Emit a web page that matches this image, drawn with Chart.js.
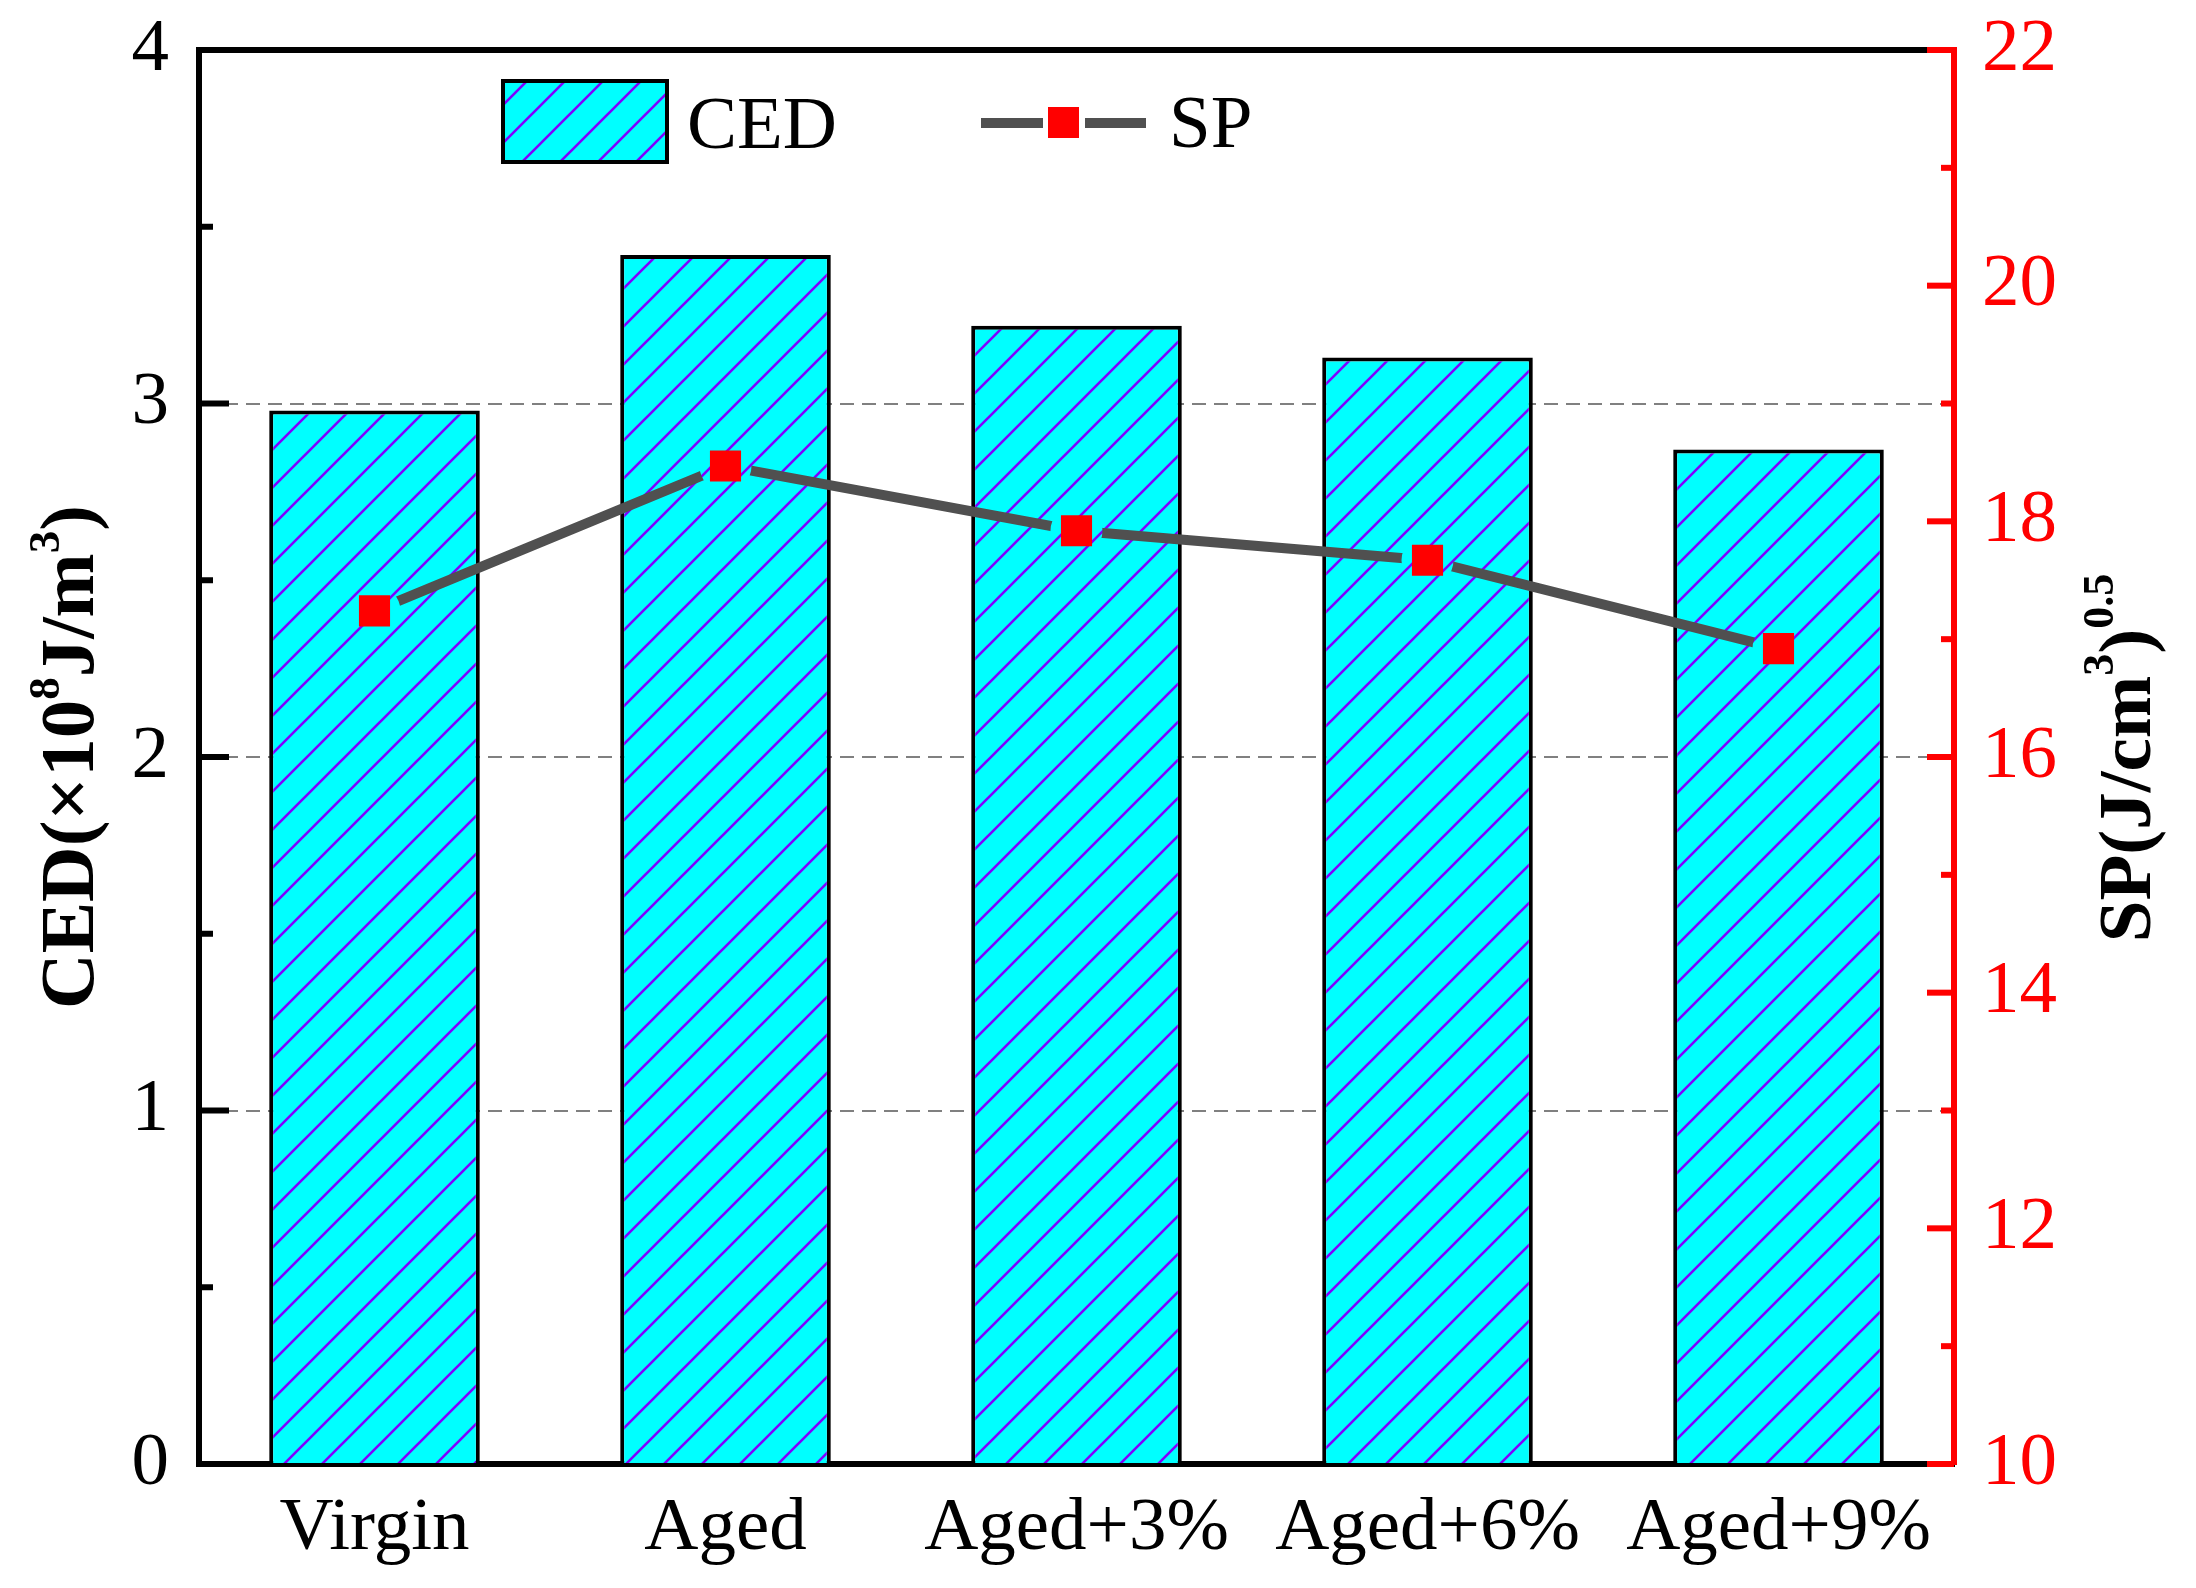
<!DOCTYPE html>
<html>
<head>
<meta charset="utf-8">
<script src="https://cdn.jsdelivr.net/npm/chart.js@4.4.1/dist/chart.umd.min.js"></script>
<style>
html, body { margin: 0; padding: 0; background: #fff; }
#wrap { position: relative; width: 2196px; height: 1588px; }
</style>
</head>
<body>
<div id="wrap"><canvas id="myChart" width="2196" height="1588"></canvas></div>
<script>
var categories = ["Virgin", "Aged", "Aged+3%", "Aged+6%", "Aged+9%"];
var cedValues = [2.98, 3.42, 3.22, 3.13, 2.87];
var spValues = [17.24, 18.47, 17.92, 17.67, 16.92];
var cedTicks = [0, 1, 2, 3, 4];
var spTicks = [10, 12, 14, 16, 18, 20, 22];

var serif = "'Liberation Serif', 'Times New Roman', serif";
Chart.defaults.font.family = serif;
Chart.defaults.font.size = 74;
Chart.defaults.color = "#000";

var canvas = document.getElementById("myChart");

// cyan fill with purple "/" hatch
function makeHatch() {
    var s = 38;
    var c = document.createElement("canvas");
    c.width = s; c.height = s;
    var g = c.getContext("2d");
    g.fillStyle = "#00ffff";
    g.fillRect(0, 0, s, s);
    g.strokeStyle = "#8000ff";
    g.lineWidth = 2.6;
    g.beginPath();
    g.moveTo(-2, s + 2); g.lineTo(s + 2, -2);
    g.moveTo(-2, 2); g.lineTo(2, -2);
    g.moveTo(s - 2, s + 2); g.lineTo(s + 2, s - 2);
    g.stroke();
    return canvas.getContext("2d").createPattern(c, "repeat");
}
var hatch = makeHatch();

function drawRotated(ctx, parts, baseX, cy, size, supSize, raise) {
    ctx.save();
    var total = 0;
    parts.forEach(function (p) {
        ctx.font = "bold " + (p.sup ? supSize : size) + "px " + serif;
        p.w = ctx.measureText(p.t).width;
        total += p.w;
    });
    ctx.translate(baseX, cy);
    ctx.rotate(-Math.PI / 2);
    ctx.textAlign = "left";
    ctx.textBaseline = "alphabetic";
    ctx.fillStyle = "#000";
    var x = -total / 2;
    parts.forEach(function (p) {
        ctx.font = "bold " + (p.sup ? supSize : size) + "px " + serif;
        ctx.fillText(p.t, x, p.sup ? -raise : 0);
        x += p.w;
    });
    ctx.restore();
}

// line gaps around the square markers
var gapClip = {
    id: "gapClip",
    beforeDatasetDraw: function (chart, args) {
        if (args.index !== 1) return;
        var ctx = chart.ctx;
        var pts = chart.getDatasetMeta(2).data;
        ctx.save();
        ctx.beginPath();
        ctx.rect(0, 0, chart.width, chart.height);
        pts.forEach(function (p) {
            ctx.moveTo(p.x + 26, p.y);
            ctx.arc(p.x, p.y, 26, 0, Math.PI * 2);
        });
        ctx.clip("evenodd");
    },
    afterDatasetDraw: function (chart, args) {
        if (args.index !== 1) return;
        chart.ctx.restore();
    }
};

var decor = {
    id: "decor",
    afterDraw: function (chart) {
        var ctx = chart.ctx;
        var a = chart.chartArea;
        var y = chart.scales.y, y1 = chart.scales.y1;
        ctx.save();
        // top frame
        ctx.strokeStyle = "#000";
        ctx.lineWidth = 6;
        ctx.beginPath();
        ctx.moveTo(a.left - 3, a.top);
        ctx.lineTo(a.right, a.top);
        ctx.stroke();
        // left ticks, inward
        for (var i = 0; i < cedTicks.length; i++) {
            var py = y.getPixelForValue(cedTicks[i]);
            ctx.beginPath(); ctx.moveTo(a.left, py); ctx.lineTo(a.left + 30, py); ctx.stroke();
            if (i < cedTicks.length - 1) {
                var my = y.getPixelForValue((cedTicks[i] + cedTicks[i + 1]) / 2);
                ctx.beginPath(); ctx.moveTo(a.left, my); ctx.lineTo(a.left + 14, my); ctx.stroke();
            }
        }
        // right ticks, inward, red
        ctx.strokeStyle = "#ff0000";
        for (var j = 0; j < spTicks.length; j++) {
            var qy = y1.getPixelForValue(spTicks[j]);
            ctx.beginPath(); ctx.moveTo(a.right, qy); ctx.lineTo(a.right - 27, qy); ctx.stroke();
            if (j < spTicks.length - 1) {
                var ny = y1.getPixelForValue((spTicks[j] + spTicks[j + 1]) / 2);
                ctx.beginPath(); ctx.moveTo(a.right, ny); ctx.lineTo(a.right - 13, ny); ctx.stroke();
            }
        }
        // legend
        ctx.fillStyle = hatch;
        ctx.fillRect(503, 81, 164, 81);
        ctx.strokeStyle = "#000";
        ctx.lineWidth = 4;
        ctx.strokeRect(503, 81, 164, 81);
        ctx.fillStyle = "#000";
        ctx.font = "75px " + serif;
        ctx.textBaseline = "alphabetic";
        ctx.textAlign = "left";
        ctx.fillText("CED", 687, 148);
        ctx.strokeStyle = "#505050";
        ctx.lineWidth = 10;
        ctx.beginPath();
        ctx.moveTo(981, 123); ctx.lineTo(1043, 123);
        ctx.moveTo(1085, 123); ctx.lineTo(1146, 123);
        ctx.stroke();
        ctx.fillStyle = "#ff0000";
        ctx.fillRect(1048, 107, 31, 31);
        ctx.fillStyle = "#000";
        ctx.fillText("SP", 1169, 147);
        ctx.restore();
        // axis titles
        drawRotated(ctx, [{t: "CED(\u00d710"}, {t: "8", sup: true}, {t: "J/m"}, {t: "3", sup: true}, {t: ")"}],
            93, 757, 77, 45, 34);
        drawRotated(ctx, [{t: "SP(J/cm"}, {t: "3", sup: true}, {t: ")"}, {t: "0.5", sup: true}],
            2150, 758, 75, 44, 37);
    }
};

function fixWidth(w) {
    return function (s) { s.width = w; s.paddingTop = 0; s.paddingBottom = 0; };
}

new Chart(canvas, {
    data: {
        labels: categories,
        datasets: [{
            type: "bar",
            label: "CED",
            data: cedValues,
            yAxisID: "y",
            backgroundColor: hatch,
            borderColor: "#000",
            borderWidth: 4,
            barPercentage: 0.6,
            categoryPercentage: 1,
            order: 3
        }, {
            type: "line",
            label: "SP",
            data: spValues,
            yAxisID: "y1",
            borderColor: "#505050",
            borderWidth: 10,
            pointRadius: 0,
            fill: false,
            order: 2
        }, {
            type: "line",
            label: "SP points",
            data: spValues,
            yAxisID: "y1",
            showLine: false,
            pointStyle: "rect",
            pointRadius: 22,
            pointBackgroundColor: "#ff0000",
            pointBorderWidth: 0,
            clip: false,
            order: 1
        }]
    },
    options: {
        responsive: false,
        devicePixelRatio: 1,
        animation: false,
        events: [],
        layout: { padding: { top: 50, left: 0, right: 0, bottom: 0 } },
        plugins: { legend: { display: false }, tooltip: { enabled: false } },
        scales: {
            x: {
                offset: true,
                grid: { display: false, drawTicks: false },
                border: { color: "#000", width: 6 },
                ticks: { color: "#000", font: { size: 75 }, padding: 20 },
                afterFit: function (s) { s.height = 124; }
            },
            y: {
                position: "left",
                min: 0, max: 4,
                ticks: { stepSize: 1, color: "#000", font: { size: 75 }, padding: 30 },
                grid: {
                    drawTicks: false,
                    lineWidth: 2,
                    color: function (c) {
                        return (c.tick && c.tick.value > 0 && c.tick.value < 4) ? "#808080" : "rgba(0,0,0,0)";
                    }
                },
                border: { color: "#000", width: 6, dash: [14, 8] },
                afterFit: fixWidth(199)
            },
            y1: {
                position: "right",
                min: 10, max: 22,
                ticks: { stepSize: 2, color: "#ff0000", font: { size: 75 }, padding: 28 },
                grid: { display: false, drawTicks: false },
                border: { color: "#ff0000", width: 6 },
                afterFit: fixWidth(242)
            }
        }
    },
    plugins: [gapClip, decor]
});
</script>
</body>
</html>
